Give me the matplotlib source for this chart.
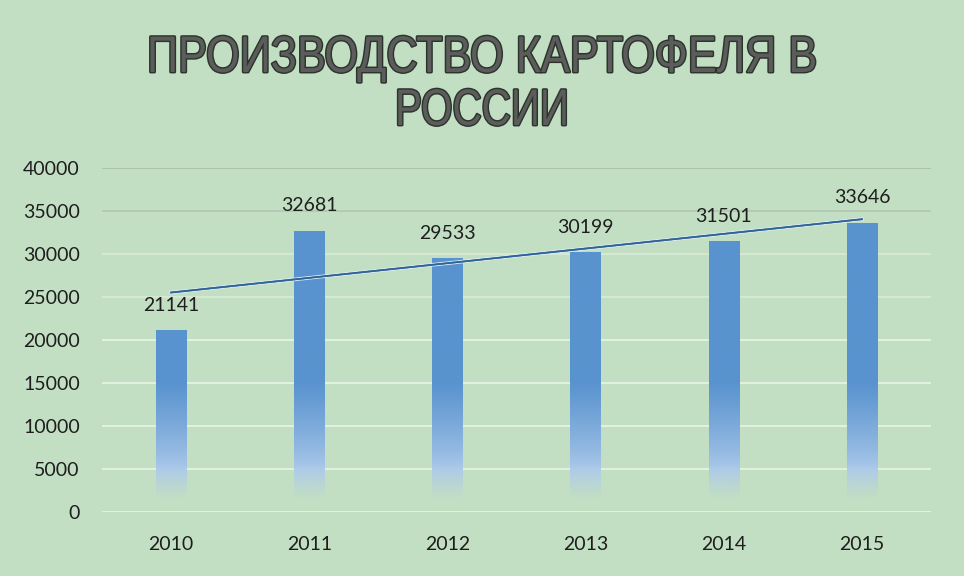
import numpy as np
import matplotlib.pyplot as plt
import matplotlib.patheffects as pe
from matplotlib.colors import to_rgb
from matplotlib.transforms import Affine2D

years = ['2010', '2011', '2012', '2013', '2014', '2015']
values = [21141, 32681, 29533, 30199, 31501, 33646]
yticks = [0, 5000, 10000, 15000, 20000, 25000, 30000, 35000, 40000]
title_lines = ['ПРОИЗВОДСТВО КАРТОФЕЛЯ В', 'РОССИИ']


class Squeeze(pe.AbstractPathEffect):
    # сжимает текст по горизонтали вокруг cx и рисует обводку
    def __init__(self, sx, cx, lw, ec):
        super().__init__()
        self.sx, self.cx, self.lw, self.ec = sx, cx, lw, ec

    def draw_path(self, renderer, gc, tpath, affine, rgbFace=None):
        t = affine + Affine2D().translate(-self.cx, 0).scale(self.sx, 1).translate(self.cx, 0)
        gc0 = renderer.new_gc()
        gc0.copy_properties(gc)
        gc0.set_linewidth(renderer.points_to_pixels(self.lw))
        gc0.set_foreground(self.ec)
        gc0.set_joinstyle('round')
        renderer.draw_path(gc0, tpath, t)
        gc0.restore()
        renderer.draw_path(gc, tpath, t, rgbFace)


bg = '#c3dfc3'
fig = plt.figure(figsize=(9.64, 5.76), dpi=100, facecolor=bg)
ax = fig.add_axes([102 / 964, 1 - 512 / 576, 829 / 964, 344 / 576])
ax.set_facecolor(bg)

x = np.arange(len(years))
bars = ax.bar(x, values, width=0.22, facecolor='none', edgecolor='none', zorder=2)

# градиентная заливка столбцов
top_c = np.array(to_rgb('#5993cf'))
low_c = np.array(to_rgb('#adcaea'))
for rect, v in zip(bars, values):
    ys = np.linspace(0, v, 400)
    t = np.clip((ys - 5000) / 10000, 0, 1)[:, None] ** 0.8
    rgb = low_c + (top_c - low_c) * t
    alpha = np.clip((ys - 1200) / 3800, 0, 1)[:, None] ** 1.3
    img = np.concatenate([rgb, alpha], axis=1)[:, None, :]
    im = ax.imshow(img, extent=[rect.get_x(), rect.get_x() + rect.get_width(), 0, v],
                   origin='lower', aspect='auto', zorder=2, interpolation='bilinear')
    im.set_clip_path(rect)

# линия тренда
k, b = np.polyfit(x, values, 1)
ax.plot(x, k * x + b, color='#2f6496', lw=1.2, zorder=3,
        path_effects=[pe.withStroke(linewidth=2.6, foreground='#dceaf0'), pe.Normal()])

for xi, v in zip(x, values):
    ax.annotate(str(v), (xi, v), xytext=(0, 18), textcoords='offset points',
                ha='center', va='center', fontsize=14, color='#1e1e1e', family='Lato')

ax.set_xlim(-0.5, len(years) - 0.5)
ax.set_ylim(0, 40000)
ax.set_yticks(yticks)
ax.set_xticks(x)
ax.set_xticklabels(years)
ax.grid(axis='y', color='#e6f2e4', lw=1.3, zorder=0)
ax.set_axisbelow(True)
grid_cols = ['#e6f2e4'] * 5 + ['#d6e9d4', '#d6e9d4', '#b3c8b3', '#a9c0a9']
for gl, c in zip(ax.yaxis.get_gridlines(), grid_cols):
    gl.set_color(c)
for s in ax.spines.values():
    s.set_visible(False)
ax.tick_params(length=0, labelsize=14, colors='#1e1e1e')
ax.tick_params(axis='y', pad=16)
ax.tick_params(axis='x', pad=17)
for lab in ax.get_xticklabels() + ax.get_yticklabels():
    lab.set_family('Lato')

# заголовок
renderer = fig.canvas.get_renderer()
for line, base, width in zip(title_lines, [72, 125], [670, 174]):
    tt = fig.text(0.5, 1 - base / 576, line, ha='center', va='baseline',
                  fontsize=37, fontweight='normal', color='#5c5c5c',
                  family=['Liberation Sans', 'DejaVu Sans'])
    w = tt.get_window_extent(renderer).width
    tt.set_path_effects([Squeeze(width / w, 482, 1.5, '#2b352b')])

fig.savefig('out.png', dpi=100, facecolor=bg)
